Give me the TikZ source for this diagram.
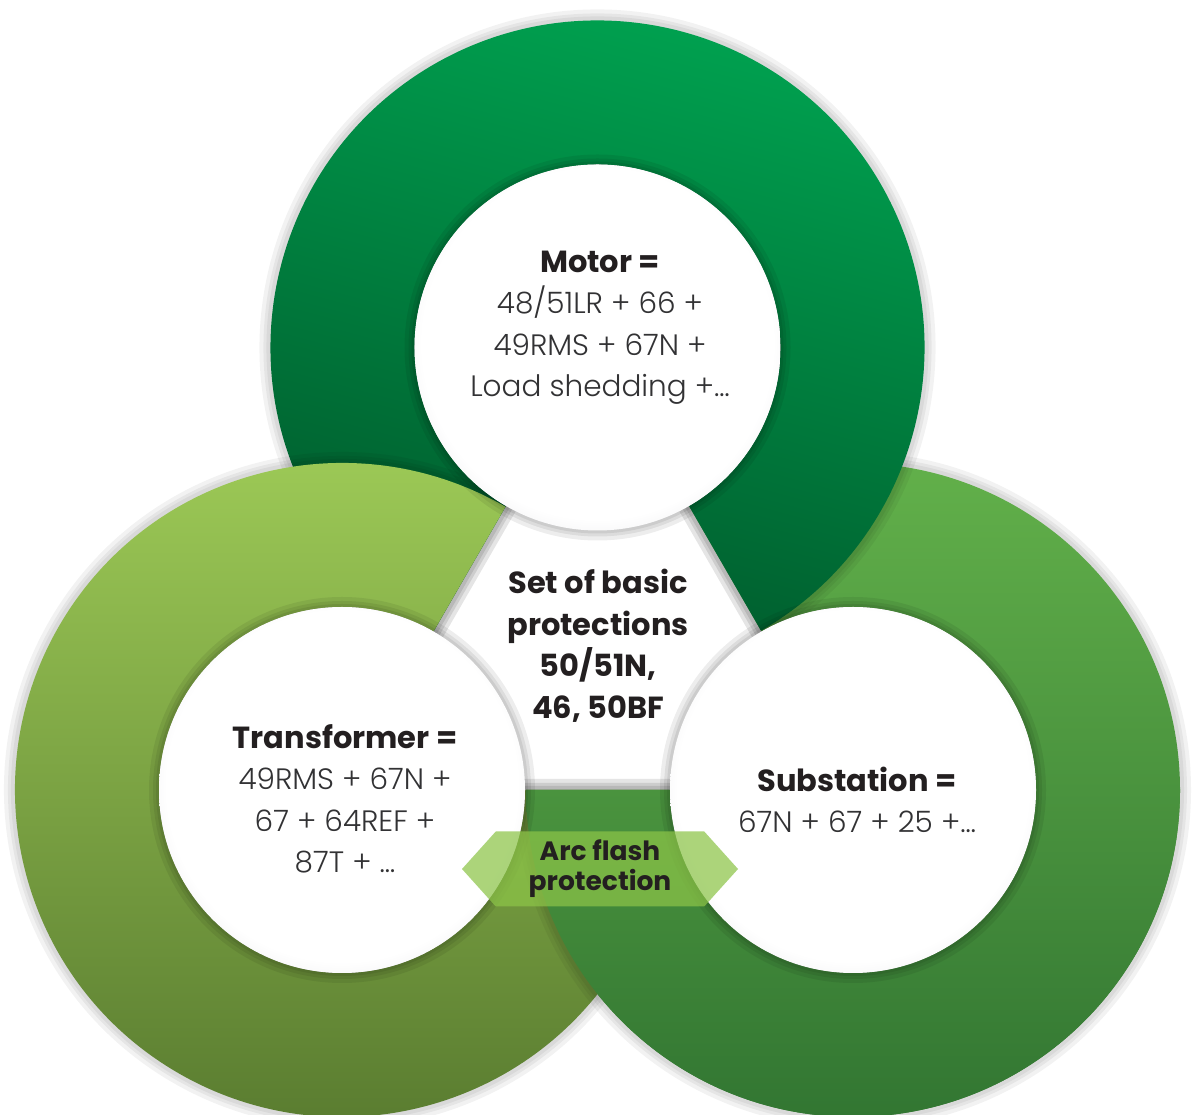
\documentclass[tikz,border=0pt]{standalone}
\usepackage{fontspec}
\setmainfont{Poppins}
\newfontfamily\lightfont{Poppins}[UprightFont={* Light}]
\usetikzlibrary{calc,positioning,shapes.symbols}
\definecolor{motortop}{RGB}{0,166,82}
\definecolor{motorbot}{RGB}{0,90,44}
\definecolor{transtop}{RGB}{160,205,88}
\definecolor{transbot}{RGB}{86,120,46}
\definecolor{substop}{RGB}{98,176,74}
\definecolor{subsbot}{RGB}{50,118,50}
\definecolor{arcgreen}{RGB}{140,196,72}
\definecolor{textdark}{RGB}{35,31,32}
\definecolor{textgrey}{RGB}{50,50,52}
\definecolor{rimgrey}{RGB}{196,196,202}

% white discs, grey towards the rim
\pgfdeclareradialshading{innerball}{\pgfpoint{0bp}{1bp}}{color(0bp)=(white); color(24bp)=(white); color(30bp)=(rimgrey!35); color(34bp)=(rimgrey!80); color(35.5bp)=(rimgrey); color(50bp)=(rimgrey)}

\newcommand{\rout}{327pt}
\newcommand{\rin}{183pt}
\newcommand{\rgap}{144pt}
% ring with a 60 degree gap: centre x, centre y, start angle, end angle
\newcommand{\ringpath}[4]{([shift={(#3:\rout)}]#1,#2) arc[start angle=#3, end angle=#4, radius=\rout] -- ++(#4+180:\rgap) arc[start angle=#4, end angle=#3, radius=\rin] -- cycle}

\begin{document}
\begin{tikzpicture}[x=1pt,y=1pt,
    softshadow/.style={draw=black, draw opacity=0.05, line join=round},
    disc/.style={circle, minimum size=366pt, inner sep=0pt, shading=innerball},
    boxtext/.style={align=center, text=textgrey, font=\fontsize{29.5}{41.5}\selectfont\lightfont},
    boldtext/.style={align=center, text=textdark, font=\fontsize{30.5}{41.5}\selectfont\bfseries},
    arcbox/.style={signal, signal to=east and west, signal pointer angle=96,
      minimum width=276pt, minimum height=75pt, inner sep=0pt,
      fill=arcgreen, fill opacity=0.72, text opacity=1, text=textdark, align=center,
      font=\fontsize{26.5}{30}\selectfont\bfseries}]
  \useasboundingbox (0,0) rectangle (1193,1115);
  \fill[white] (0,0) rectangle (1193,1115);

  % Substation ring (lowest)
  \foreach \w in {22,14,8} \path[softshadow, line width=\w] \ringpath{853}{325}{180}{480};
  \shade[top color=substop, bottom color=subsbot] \ringpath{853}{325}{180}{480};

  % Motor ring
  \foreach \w in {22,14,8} \path[softshadow, line width=\w] \ringpath{597.5}{767.5}{300}{600};
  \shade[top color=motortop, bottom color=motorbot, shading angle=-15] \ringpath{597.5}{767.5}{300}{600};

  % Transformer ring
  \foreach \w in {22,14,8} \path[softshadow, line width=\w] \ringpath{342}{325}{60}{360};
  \shade[top color=transtop, bottom color=transbot] \ringpath{342}{325}{60}{360};

  % Substation again over the transformer, below the base line
  \begin{scope}
    \clip (0,0) rectangle (1193,325);
    \begin{scope}
      \clip \ringpath{342}{325}{60}{360};
      \foreach \w in {22,14,8} \path[softshadow, line width=\w] \ringpath{853}{325}{180}{480};
    \end{scope}
    \shade[top color=substop, bottom color=subsbot] \ringpath{853}{325}{180}{480};
  \end{scope}

  % inner discs
  \foreach \x/\y in {597.5/767.5, 342/325, 853/325}
    \foreach \w in {20,12,6} \draw[black, draw opacity=0.07, line width=\w] (\x,\y) circle[radius=183];
  \node[disc] (motor) at (597.5,767.5) {};
  \node[disc] (transformer) at (342,325) {};
  \node[disc] (substation) at (853,325) {};

  % texts
  \node[boxtext] (motortext) at (600,787) {{\fontsize{30.5}{41.5}\selectfont\normalfont\bfseries\color{textdark}Motor =}\\48/51LR + 66 +\\49RMS + 67N +\\Load shedding +…};
  \node[boxtext] (transtext) at (345,316) {{\fontsize{30.5}{41.5}\selectfont\normalfont\bfseries\color{textdark}Transformer =}\\49RMS + 67N +\\67 + 64REF +\\87T + …};
  \node[boxtext] (substext) at (857,315) {{\fontsize{30.5}{41.5}\selectfont\normalfont\bfseries\color{textdark}Substation =}\\67N + 67 + 25 +…};
  \node[boldtext] (basic) at (598,469) {Set of basic\\protections\\50/51N,\\46, 50BF};

  % Arc flash label
  \node[arcbox] (arcflash) at (600,246) {Arc flash\\protection};
\end{tikzpicture}
\end{document}
